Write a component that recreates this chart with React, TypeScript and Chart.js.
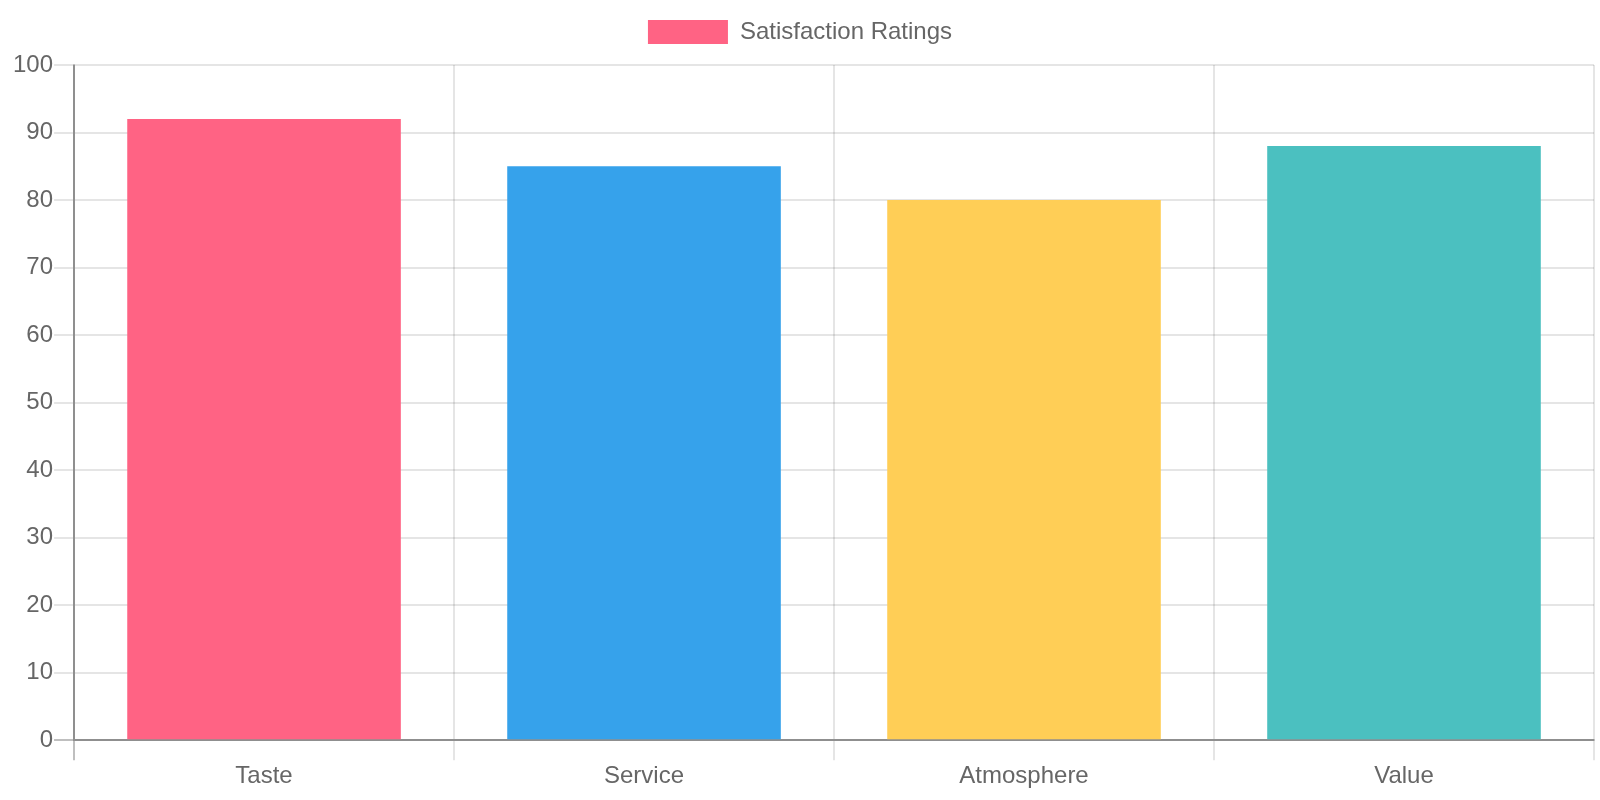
import React, { useEffect, useRef } from 'react';
import { Chart, registerables } from 'chart.js';

Chart.register(...registerables);

const categories = ['Taste', 'Service', 'Atmosphere', 'Value'];
const ratings = [92, 85, 80, 88];
const barColors = ['#FF6384', '#36A2EB', '#FFCE56', '#4BC0C0'];
const seriesLabel = 'Satisfaction Ratings';

const lightLine = 'rgba(0, 0, 0, 0.1)';
const darkLine = 'rgba(0, 0, 0, 0.25)';

// adds some space under the legend
const legendMargin = {
   id: 'legendMargin',
   beforeInit(chart: any) {
      const originalFit = chart.legend.fit;
      chart.legend.fit = function fit() {
         originalFit.bind(chart.legend)();
         this.height += 11;
      };
   },
};

const App = () => {
   const canvasRef = useRef<HTMLCanvasElement | null>(null);

   useEffect(() => {
      if (!canvasRef.current) {
         return;
      }
      Chart.defaults.font.size = 24;
      Chart.defaults.color = '#666';

      const chart = new Chart(canvasRef.current, {
         type: 'bar',
         data: {
            labels: categories,
            datasets: [
               {
                  label: seriesLabel,
                  data: ratings,
                  backgroundColor: barColors,
               },
            ],
         },
         plugins: [legendMargin],
         options: {
            animation: false,
            responsive: true,
            maintainAspectRatio: false,
            layout: { padding: { left: 6, right: 6, top: 0, bottom: 7 } },
            plugins: {
               legend: {
                  labels: { boxWidth: 80, boxHeight: 24, padding: 20 },
               },
               tooltip: { enabled: false },
            },
            scales: {
               x: {
                  grid: {
                     lineWidth: 2,
                     tickLength: 20,
                     color: (ctx: any) => (ctx.index === 0 ? darkLine : lightLine),
                  },
                  border: { color: darkLine, width: 2 },
                  ticks: { padding: 2 },
               },
               y: {
                  min: 0,
                  max: 100,
                  ticks: { stepSize: 10, padding: 1 },
                  afterFit: (scale: any) => {
                     scale.width += 6;
                  },
                  grid: {
                     lineWidth: 2,
                     tickLength: 20,
                     color: (ctx: any) => (ctx.tick && ctx.tick.value === 0 ? darkLine : lightLine),
                  },
                  border: { color: darkLine, width: 2 },
               },
            },
         },
      });

      return () => {
         chart.destroy();
      };
   }, []);

   return (
      <div style={{ position: 'absolute', left: 0, top: 0, width: 1600, height: 800 }}>
         <canvas ref={canvasRef} />
      </div>
   );
};

export default App;
